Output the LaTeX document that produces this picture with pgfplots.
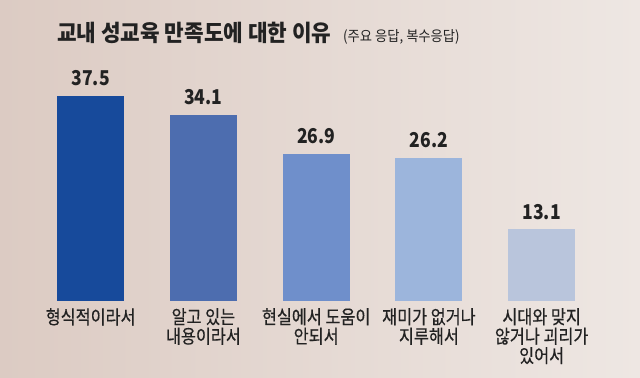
\documentclass[border=0pt]{standalone}
\usepackage{pgfplots}
\pgfplotsset{compat=1.18}
\usepackage{fontspec}
\newfontfamily\kr{Noto Sans CJK KR}[FakeStretch=0.86]
\newfontfamily\krl{Noto Sans CJK KR}[FakeStretch=0.86,FakeBold=0.4]
\newfontfamily\krt{Noto Sans CJK KR}[FakeStretch=0.93]
\newfontfamily\krs{Noto Sans CJK KR}[FakeStretch=0.92]
\definecolor{bgL}{HTML}{DCCBC3}
\definecolor{bgR}{HTML}{EEE7E3}
\definecolor{cA}{HTML}{174A9B}
\definecolor{cB}{HTML}{4D6DAF}
\definecolor{cC}{HTML}{6F8FCB}
\definecolor{cD}{HTML}{9CB5DC}
\definecolor{cE}{HTML}{B9C5DC}
\definecolor{txt}{HTML}{222222}
\begin{document}
\begin{tikzpicture}[x=1bp,y=1bp]
\shade[left color=bgL,right color=bgR] (0,0) rectangle (640,377);
\node[anchor=base west,inner sep=0pt,text=txt] at (57,336) {\krt\fontsize{23}{25}\selectfont\bfseries 교내 성교육 만족도에 대한 이유};
\node[anchor=base west,inner sep=0pt,text=txt] at (343,336) {\krs\fontsize{14.5}{16}\selectfont (주요 응답, 복수응답)};
\begin{axis}[
  at={(34.3bp,76bp)}, anchor=south west,
  scale only axis, width=563.75bp, height=218.7bp,
  xmin=-0.5, xmax=4.5, ymin=0, ymax=40,
  axis lines=none,
  clip=false,
  ybar, bar width=67bp, bar shift=0pt,
  point meta=explicit symbolic,
  nodes near coords={\pgfplotspointmeta},
  nodes near coords style={anchor=base, yshift=10bp, inner sep=0pt, font=\kr\fontsize{20.5}{22}\selectfont\bfseries, text=txt},
]
\addplot[draw=none, fill=cA] coordinates {(0,37.5) [37.5]};
\addplot[draw=none, fill=cB] coordinates {(1,34.1) [34.1]};
\addplot[draw=none, fill=cC] coordinates {(2,26.9) [26.9]};
\addplot[draw=none, fill=cD] coordinates {(3,26.2) [26.2]};
\addplot[draw=none, fill=cE] coordinates {(4,13.1) [13.1]};
\foreach \i/\t in {0/{형식적이라서}, 1/{알고 있는\\내용이라서}, 2/{현실에서 도움이\\안되서}, 3/{재미가 없거나\\지루해서}, 4/{시대와 맞지\\않거나 괴리가\\있어서}} {
  \edef\tmp{\noexpand\node[anchor=north, align=center, inner sep=0pt, text=txt, font=\noexpand\krl\noexpand\fontsize{19}{19.5}\noexpand\selectfont] at (axis cs:\i,0) [yshift=-7bp] {\unexpanded\expandafter{\t}};}
  \tmp
}
\end{axis}
\end{tikzpicture}
\end{document}
